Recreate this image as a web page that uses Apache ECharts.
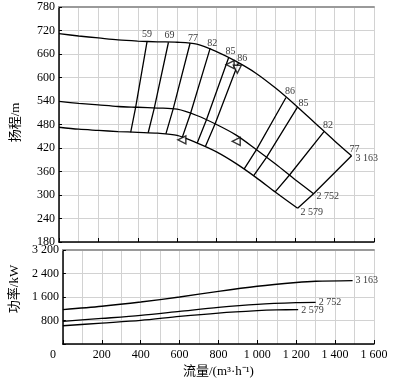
<!DOCTYPE html>
<html><head><meta charset="utf-8">
<script src="https://cdn.jsdelivr.net/npm/echarts@6/dist/echarts.min.js"></script>
<style>html,body{margin:0;padding:0;background:#fff}#c{width:406px;height:383px}</style>
</head><body><div id="c"></div>
<script>
// Head curves (flow m3/h, head m) at three speeds
const speeds = ['3 163', '2 752', '2 579'];
const q3163 = [0, 100, 200, 300, 400, 500, 600, 700, 800, 900, 1000, 1100, 1200, 1300, 1400, 1486];
const h3163 = [712, 706, 701, 696, 693, 691, 690, 685, 666, 641, 611, 573, 530, 484, 438, 400];
const q2752 = [0, 100, 200, 300, 400, 500, 600, 700, 800, 900, 1000, 1100, 1200, 1293];
const h2752 = [539, 534, 530, 526, 524, 522, 519, 503, 480, 453, 417, 379, 339, 303];
const q2579 = [0, 100, 200, 300, 400, 500, 600, 700, 800, 900, 1000, 1100, 1212];
const h2579 = [473, 468, 465, 462, 460, 458, 452, 433, 410, 380, 345, 307, 266];

// Iso-efficiency lines: [bottom, middle, top] points
const effLabels = ['59', '69', '77', '82', '85', '86', '86', '85', '82', '77'];
const effLines = [
  [[364, 460], [389, 523], [447, 691]],
  [[453, 459], [484, 522], [556, 690]],
  [[543, 456], [580, 520], [666, 688]],
  [[626, 447], [668, 508], [768, 675]],
  [[702, 433], [749, 492], [861, 650]],
  [[743, 423], [793, 482], [911, 637]],
  [[940, 366], [1003, 416], [1153, 549]],
  [[988, 349], [1054, 396], [1212, 525]],
  [[1098, 308], [1171, 351], [1346, 462]],
  [[1212, 266], [1293, 303], [1486, 400]]
];
// Triangle markers
const triPts = [[869, 633], [906, 621], [624, 441], [900, 437]];

// Power curves (kW)
const pq3163 = [0, 200, 400, 600, 800, 1000, 1200, 1300, 1490];
const p3163 = [1170, 1285, 1430, 1600, 1795, 1966, 2093, 2137, 2160];
const pq2752 = [0, 200, 400, 600, 800, 1000, 1200, 1300];
const p2752 = [770, 870, 975, 1111, 1248, 1351, 1409, 1419];
const pq2579 = [0, 200, 400, 600, 800, 1000, 1100, 1210];
const p2579 = [622, 712, 804, 940, 1054, 1135, 1160, 1172];

// Axis ticks
const xMin = 0, xMax = 1600, xStep = 200;
const hMin = 180, hMax = 780, hStep = 60;
const pMin = 0, pMax = 3200, pStep = 800;

const FONT = 'Liberation Serif';
const fmt = v => v >= 1000 ? String(v).replace(/(\d)(\d{3})$/, '$1 $2') : String(v);
const zip = (a, b) => a.map((x, i) => [x, b[i]]);
const grid = '#d2d2d2';

function xAxis(gi, labels) {
  return {
    type: 'value', gridIndex: gi, min: xMin, max: xMax, interval: xStep,
    axisLine: { lineStyle: { color: '#000', width: 1.5 } },
    axisTick: { inside: true, length: 4, lineStyle: { color: '#000' } },
    axisLabel: labels ? {
      color: '#000', fontFamily: FONT, fontSize: 12, margin: 5,
      formatter: v => v === 0 ? '{z|0}' : fmt(v),
      rich: { z: { fontFamily: FONT, fontSize: 12, color: '#000', padding: [0, 20, 0, 0] } }
    } : { show: false },
    splitLine: { show: true, lineStyle: { color: grid, width: 1 } },
    minorTick: { show: false, splitNumber: 2 },
    minorSplitLine: { show: true, lineStyle: { color: grid, width: 1 } },
    name: labels ? '流量/(m³·h⁻¹)' : '', nameLocation: 'middle', nameGap: 21,
    nameTextStyle: { color: '#000', fontFamily: FONT + ', Noto Sans CJK SC', fontSize: 13 }
  };
}
function topLine(gi) {
  return {
    type: 'value', gridIndex: gi, position: 'top', min: xMin, max: xMax,
    axisLine: { lineStyle: { color: '#9a9a9a', width: 2 } },
    axisTick: { show: false }, axisLabel: { show: false }, splitLine: { show: false }
  };
}
function yAxis(gi, min, max, step, name, hideZero, namePad) {
  return {
    type: 'value', gridIndex: gi, min, max, interval: step,
    axisLine: { show: true, lineStyle: { color: '#000', width: 1.5 } },
    axisTick: { show: true, inside: true, length: 3, lineStyle: { color: '#000' } },
    axisLabel: { color: '#000', fontFamily: FONT, fontSize: 12, margin: 4,
      formatter: v => (hideZero && v === 0) ? '' : fmt(v) },
    splitLine: { show: true, lineStyle: { color: grid, width: 1 } },
    name, nameLocation: 'middle', nameGap: 37, nameRotate: 90,
    nameTextStyle: { color: '#000', fontFamily: FONT + ', Noto Sans CJK SC', fontSize: 13,
      padding: namePad }
  };
}

const lineStyle = { color: '#000', width: 1.3 };
const series = [];
// head curves
[[q3163, h3163], [q2752, h2752], [q2579, h2579]].forEach(([q, h]) => {
  series.push({ type: 'line', xAxisIndex: 0, yAxisIndex: 0, data: zip(q, h), smooth: 0.3,
    symbol: 'none', lineStyle, silent: true, z: 3 });
});
// efficiency lines
effLines.forEach(pts => {
  series.push({ type: 'line', xAxisIndex: 0, yAxisIndex: 0, data: pts, smooth: false,
    symbol: 'none', lineStyle, silent: true, z: 3 });
});
// efficiency labels
const effOffsets = [[0, 0], [1, 0], [3, 2], [2, 2], [2, 0], [4, 2], [4, 1], [6, 3], [4, 1], [3, 1]];
series.push({
  type: 'scatter', xAxisIndex: 0, yAxisIndex: 0, symbolSize: 0, silent: true, z: 5,
  data: effLines.map((pts, i) => ({
    value: pts[pts.length - 1],
    label: { show: true, position: 'top', distance: 2, formatter: effLabels[i], offset: effOffsets[i],
      color: '#000', fontFamily: FONT, fontSize: 10 }
  }))
});
// speed labels on head curves
const headEnds = [[q3163, h3163], [q2752, h2752], [q2579, h2579]].map(([q, h]) => [q[q.length - 1], h[h.length - 1]]);
const headOffsets = [[1, 3], [0, 3], [0, 4]];
series.push({
  type: 'scatter', xAxisIndex: 0, yAxisIndex: 0, symbolSize: 0, silent: true, z: 5,
  data: headEnds.map((p, i) => ({
    value: p,
    label: { show: true, position: 'right', distance: 3, formatter: speeds[i], offset: headOffsets[i],
      color: '#000', fontFamily: FONT, fontSize: 10 }
  }))
});
// triangles
series.push({
  type: 'scatter', xAxisIndex: 0, yAxisIndex: 0, silent: true, z: 6,
  symbol: 'triangle', symbolSize: 8,
  data: triPts.map((p, i) => ({ value: p, symbolRotate: i === 1 ? 180 : 90 })),
  itemStyle: { color: '#fff', borderColor: '#000', borderWidth: 1.4 }
});
// power curves
[[pq3163, p3163], [pq2752, p2752], [pq2579, p2579]].forEach(([q, p]) => {
  series.push({ type: 'line', xAxisIndex: 1, yAxisIndex: 1, data: zip(q, p), smooth: 0.3,
    symbol: 'none', lineStyle, silent: true, z: 3 });
});
const powEnds = [[pq3163, p3163], [pq2752, p2752], [pq2579, p2579]].map(([q, p]) => [q[q.length - 1], p[p.length - 1]]);
const powOffsets = [[0, 0], [0, 0], [0, 1]];
series.push({
  type: 'scatter', xAxisIndex: 1, yAxisIndex: 1, symbolSize: 0, silent: true, z: 5,
  data: powEnds.map((p, i) => ({
    value: p,
    label: { show: true, position: 'right', distance: 3, formatter: speeds[i], offset: powOffsets[i],
      color: '#000', fontFamily: FONT, fontSize: 10 }
  }))
});

const chart = echarts.init(document.getElementById('c'), null, { renderer: 'canvas' });
chart.setOption({
  animation: false,
  backgroundColor: '#fff',
  grid: [
    { left: 59, right: 32, top: 7, height: 235 },
    { left: 59, right: 32, top: 250, height: 94 }
  ],
  xAxis: [xAxis(0, false), xAxis(1, true), topLine(0), topLine(1)],
  yAxis: [
    yAxis(0, hMin, hMax, hStep, '扬程/m', false, [0, 0, 0, 4]),
    yAxis(1, pMin, pMax, pStep, '功率/kW', true, [0, 0, 0, 16])
  ],
  series
});
</script>
</body></html>
